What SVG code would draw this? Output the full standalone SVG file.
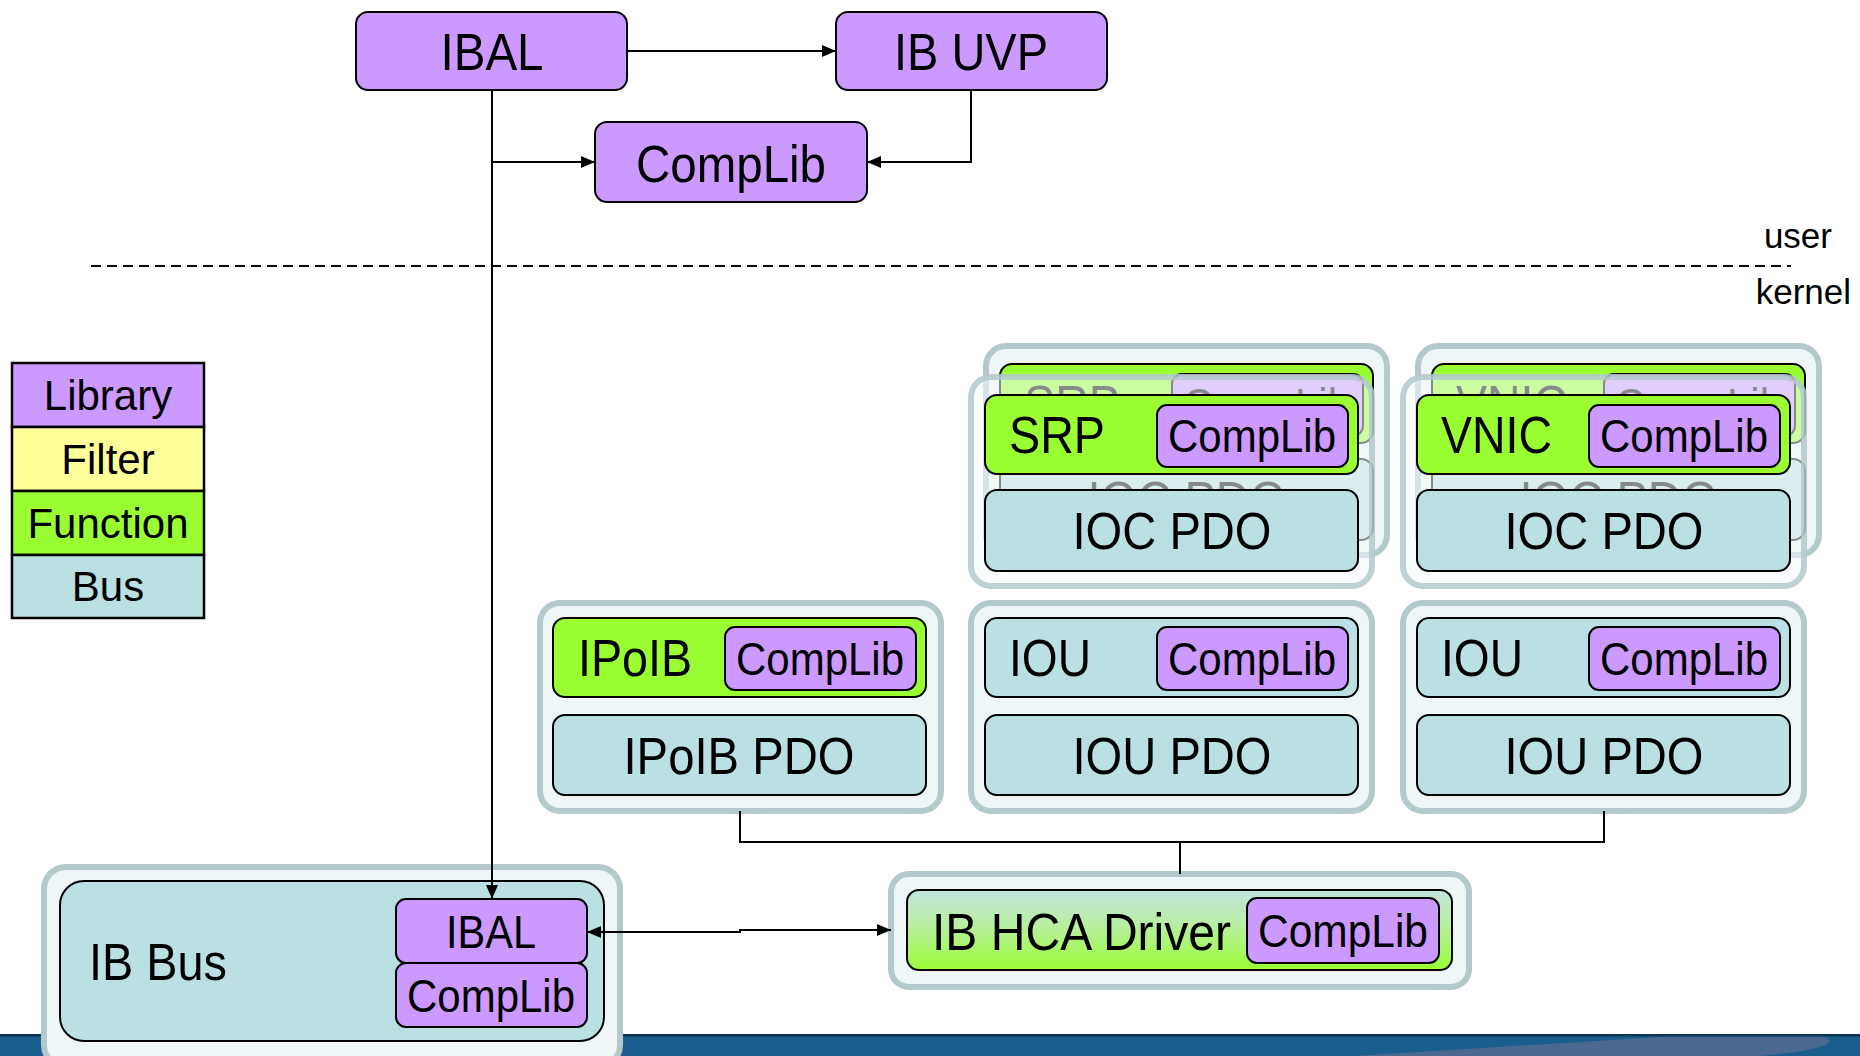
<svg xmlns="http://www.w3.org/2000/svg" width="1860" height="1056" viewBox="0 0 1860 1056">
<style>
text{font-family:"Liberation Sans",Arial,sans-serif;fill:#000}
.big{font-size:52px}
.sm{font-size:47px}
.leg{font-size:42px;text-anchor:middle}
.mid{text-anchor:middle}
.lib{fill:#CC99FF;stroke:#000;stroke-width:2}
.fun{fill:#99FF33;stroke:#000;stroke-width:2}
.bus{fill:#BBE0E3;stroke:#000;stroke-width:2}
.frame{fill:#EEF6F7;stroke:#B3C9CC;stroke-width:6}
.framet{fill:#F4F9FA;fill-opacity:0.55;stroke:#B3C9CC;stroke-width:6;stroke-opacity:0.85}
.ln{fill:none;stroke:#000;stroke-width:2}
.leg rect{stroke:#000;stroke-width:2.5}
</style>
<defs>
<marker id="ah" viewBox="0 0 14 12" refX="14" refY="6" markerWidth="14" markerHeight="12" markerUnits="userSpaceOnUse" orient="auto-start-reverse">
<path d="M0,0 L14,6 L0,12 Z" fill="#000"/>
</marker>
<linearGradient id="hca" x1="0" y1="0" x2="0" y2="1">
<stop offset="0" stop-color="#C3E4DE"/>
<stop offset="0.45" stop-color="#B8EFA0"/>
<stop offset="1" stop-color="#99FF33"/>
</linearGradient>
</defs>
<rect width="1860" height="1056" fill="#fff"/>

<!-- bottom band -->
<g id="band">
<rect x="0" y="1035" width="1860" height="21" fill="#1A5E8E"/>
<path d="M1354 1056 L1660 1037 H1826 Q1845 1048 1760 1056 Z" fill="#4A6890"/>
<rect x="0" y="1034" width="1860" height="2.5" fill="#0D3550"/>
</g>

<!-- user/kernel -->
<g id="boundary">
<path d="M91 266 H1791" stroke="#000" stroke-width="2" stroke-dasharray="10 6" fill="none"/>
<text x="1832" y="248" font-size="35" text-anchor="end">user</text>
<text x="1851" y="304" font-size="35" text-anchor="end">kernel</text>
</g>

<!-- legend -->
<g id="legend" class="leg">
<rect x="12" y="363" width="192" height="64" fill="#CC99FF"/>
<rect x="12" y="427" width="192" height="64" fill="#FFFF99"/>
<rect x="12" y="491" width="192" height="64" fill="#99FF33"/>
<rect x="12" y="555" width="192" height="63" fill="#BBE0E3"/>
<text x="108" y="410">Library</text>
<text x="108" y="474">Filter</text>
<text x="108" y="538">Function</text>
<text x="108" y="601">Bus</text>
</g>

<!-- top nodes -->
<g id="ibal-user">
<rect class="lib" x="356" y="12" width="271" height="78" rx="12"/>
<text class="big mid" x="492" y="70" textLength="103" lengthAdjust="spacingAndGlyphs">IBAL</text>
</g>
<g id="ibuvp">
<rect class="lib" x="836" y="12" width="271" height="78" rx="12"/>
<text class="big mid" x="971" y="70" textLength="154" lengthAdjust="spacingAndGlyphs">IB UVP</text>
</g>
<g id="complib-user">
<rect class="lib" x="595" y="122" width="272" height="80" rx="12"/>
<text class="big mid" x="731" y="182" textLength="190" lengthAdjust="spacingAndGlyphs">CompLib</text>
</g>

<!-- SRP stack (back) -->
<g id="srp-back">
<rect class="frame" x="986" y="346" width="401" height="209" rx="20"/>
<rect class="fun" x="1000" y="364" width="373" height="79" rx="12"/>
<text class="big" x="1024" y="422" textLength="96" lengthAdjust="spacingAndGlyphs">SRP</text>
<rect class="lib" x="1172" y="374" width="191" height="62" rx="10"/>
<text class="sm mid" x="1267" y="421" textLength="168" lengthAdjust="spacingAndGlyphs">CompLib</text>
<rect class="bus" x="1000" y="459" width="373" height="81" rx="12"/>
<text class="big mid" x="1187" y="518" textLength="199" lengthAdjust="spacingAndGlyphs">IOC PDO</text>
</g>
<!-- SRP stack (front) -->
<g id="srp-front">
<rect class="framet" x="971" y="377" width="401" height="209" rx="20"/>
<rect class="fun" x="985" y="395" width="373" height="79" rx="12"/>
<text class="big" x="1009" y="453" textLength="96" lengthAdjust="spacingAndGlyphs">SRP</text>
<rect class="lib" x="1157" y="405" width="191" height="62" rx="10"/>
<text class="sm mid" x="1252" y="452" textLength="168" lengthAdjust="spacingAndGlyphs">CompLib</text>
<rect class="bus" x="985" y="490" width="373" height="81" rx="12"/>
<text class="big mid" x="1172" y="549" textLength="199" lengthAdjust="spacingAndGlyphs">IOC PDO</text>
</g>

<!-- VNIC stack (back) -->
<g id="vnic-back">
<rect class="frame" x="1418" y="346" width="401" height="209" rx="20"/>
<rect class="fun" x="1432" y="364" width="373" height="79" rx="12"/>
<text class="big" x="1456" y="422" textLength="111" lengthAdjust="spacingAndGlyphs">VNIC</text>
<rect class="lib" x="1604" y="374" width="191" height="62" rx="10"/>
<text class="sm mid" x="1699" y="421" textLength="168" lengthAdjust="spacingAndGlyphs">CompLib</text>
<rect class="bus" x="1432" y="459" width="373" height="81" rx="12"/>
<text class="big mid" x="1619" y="518" textLength="199" lengthAdjust="spacingAndGlyphs">IOC PDO</text>
</g>
<!-- VNIC stack (front) -->
<g id="vnic-front">
<rect class="framet" x="1403" y="377" width="401" height="209" rx="20"/>
<rect class="fun" x="1417" y="395" width="373" height="79" rx="12"/>
<text class="big" x="1441" y="453" textLength="111" lengthAdjust="spacingAndGlyphs">VNIC</text>
<rect class="lib" x="1589" y="405" width="191" height="62" rx="10"/>
<text class="sm mid" x="1684" y="452" textLength="168" lengthAdjust="spacingAndGlyphs">CompLib</text>
<rect class="bus" x="1417" y="490" width="373" height="81" rx="12"/>
<text class="big mid" x="1604" y="549" textLength="199" lengthAdjust="spacingAndGlyphs">IOC PDO</text>
</g>

<!-- middle row -->
<g id="ipoib">
<rect class="frame" x="540" y="603" width="401" height="208" rx="20"/>
<rect class="fun" x="553" y="618" width="373" height="79" rx="12"/>
<text class="big" x="578" y="676" textLength="114" lengthAdjust="spacingAndGlyphs">IPoIB</text>
<rect class="lib" x="725" y="627" width="191" height="63" rx="10"/>
<text class="sm mid" x="820" y="675" textLength="168" lengthAdjust="spacingAndGlyphs">CompLib</text>
<rect class="bus" x="553" y="715" width="373" height="80" rx="12"/>
<text class="big mid" x="739" y="774" textLength="231" lengthAdjust="spacingAndGlyphs">IPoIB PDO</text>
</g>
<g id="iou1">
<rect class="frame" x="971" y="603" width="401" height="208" rx="20"/>
<rect class="bus" x="985" y="618" width="373" height="79" rx="12"/>
<text class="big" x="1009" y="676" textLength="82" lengthAdjust="spacingAndGlyphs">IOU</text>
<rect class="lib" x="1157" y="627" width="191" height="63" rx="10"/>
<text class="sm mid" x="1252" y="675" textLength="168" lengthAdjust="spacingAndGlyphs">CompLib</text>
<rect class="bus" x="985" y="715" width="373" height="80" rx="12"/>
<text class="big mid" x="1172" y="774" textLength="199" lengthAdjust="spacingAndGlyphs">IOU PDO</text>
</g>
<g id="iou2">
<rect class="frame" x="1403" y="603" width="401" height="208" rx="20"/>
<rect class="bus" x="1417" y="618" width="373" height="79" rx="12"/>
<text class="big" x="1441" y="676" textLength="82" lengthAdjust="spacingAndGlyphs">IOU</text>
<rect class="lib" x="1589" y="627" width="191" height="63" rx="10"/>
<text class="sm mid" x="1684" y="675" textLength="168" lengthAdjust="spacingAndGlyphs">CompLib</text>
<rect class="bus" x="1417" y="715" width="373" height="80" rx="12"/>
<text class="big mid" x="1604" y="774" textLength="199" lengthAdjust="spacingAndGlyphs">IOU PDO</text>
</g>

<!-- IB HCA Driver -->
<g id="hca">
<rect class="frame" x="891" y="874" width="578" height="113" rx="18"/>
<rect x="907" y="890" width="545" height="80" rx="12" fill="url(#hca)" stroke="#000" stroke-width="2"/>
<text class="big" x="932" y="950" textLength="299" lengthAdjust="spacingAndGlyphs">IB HCA Driver</text>
<rect class="lib" x="1247" y="898" width="192" height="65" rx="10"/>
<text class="sm mid" x="1343" y="947" textLength="170" lengthAdjust="spacingAndGlyphs">CompLib</text>
</g>

<!-- IB Bus -->
<g id="ibbus">
<rect class="frame" x="44" y="867" width="576" height="200" rx="22"/>
<rect class="bus" x="60" y="881" width="544" height="160" rx="24"/>
<text class="big" x="89" y="980" textLength="138" lengthAdjust="spacingAndGlyphs">IB Bus</text>
<rect class="lib" x="396" y="899" width="191" height="64" rx="10"/>
<text class="sm mid" x="491" y="948" textLength="90" lengthAdjust="spacingAndGlyphs">IBAL</text>
<rect class="lib" x="396" y="963" width="191" height="64" rx="10"/>
<text class="sm mid" x="491" y="1012" textLength="168" lengthAdjust="spacingAndGlyphs">CompLib</text>
</g>

<!-- connectors -->
<g id="connectors">
<path class="ln" d="M627 51 H836" marker-end="url(#ah)"/>
<path class="ln" d="M492 90 V899" marker-end="url(#ah)"/>
<path class="ln" d="M492 162 H595" marker-end="url(#ah)"/>
<path class="ln" d="M971 90 V162 H867" marker-end="url(#ah)"/>
<path class="ln" d="M740 811 V842 H1604 V811"/>
<path class="ln" d="M1180 842 V874"/>
<path class="ln" d="M587 932 H740 V930 H891" marker-start="url(#ah)" marker-end="url(#ah)"/>
</g>
</svg>
